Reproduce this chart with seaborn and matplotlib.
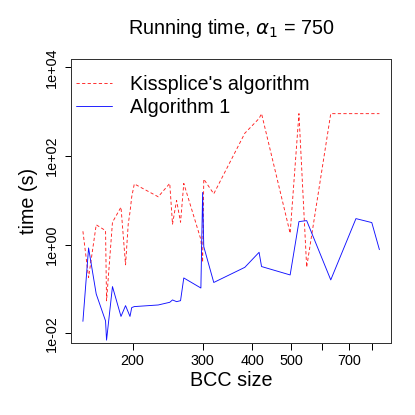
import numpy as np
import pandas as pd
import seaborn as sns
import matplotlib.pyplot as plt
from matplotlib.ticker import FixedLocator, NullLocator

# BCC size and running time (s) for both methods
bcc_size = [150, 155, 162, 171, 172, 178, 187, 192, 195, 197, 199, 202,
            232, 248, 252, 258, 264, 269, 297, 300, 302, 320, 383, 416,
            422, 498, 524, 548, 630, 729, 799, 835]
kissplice = [2.0, 0.18, 2.8, 2.07, 0.054, 3.2, 7.0, 0.35, 2.9, 5.4, 12, 23.4,
             12, 24, 2.9, 9.9, 3.2, 24, 1.3, 0.4, 30, 14, 325, 700,
             900, 1.8, 900, 0.31, 900, 900, 900, 900]
algo1 = [0.0186, 0.84, 0.077, 0.019, 0.007, 0.113, 0.024, 0.042, 0.03, 0.024, 0.038, 0.040,
         0.0435, 0.05, 0.0565, 0.0517, 0.0544, 0.177, 0.105, 15, 0.9, 0.14, 0.307, 0.67,
         0.32, 0.207, 3.3, 3.48, 0.16, 3.86, 3.14, 0.77]

data = pd.DataFrame({'bcc': bcc_size, 'kissplice': kissplice, 'algo1': algo1})

sns.set_style('white')
plt.rcParams['font.family'] = ['Liberation Sans', 'DejaVu Sans']
plt.rcParams['mathtext.fontset'] = 'dejavusans'
plt.rcParams['text.color'] = 'black'
plt.rcParams['axes.labelcolor'] = 'black'

fig = plt.figure(figsize=(415 / 72, 415 / 72), dpi=72)
ax = fig.add_axes([71 / 415, 71.7 / 415, 320 / 415, 284 / 415])

sns.lineplot(data=data, x='bcc', y='kissplice', ax=ax, color='#FF2020', lw=0.9,
             linestyle=(0, (3.6, 2.6)), label="Kissplice's algorithm",
             estimator=None)
sns.lineplot(data=data, x='bcc', y='algo1', ax=ax, color='#1010FF', lw=0.9,
             estimator=None, label='Algorithm 1')

ax.set_xscale('log')
ax.set_yscale('log')
ax.set_xlim(140, 893)
ax.set_ylim(10 ** -2.226, 10 ** 4.18)

ax.xaxis.set_major_locator(FixedLocator([200, 300, 400, 500, 600, 700, 800]))
ax.set_xticklabels(['200', '300', '400', '500', '', '700', ''])
ax.xaxis.set_minor_locator(NullLocator())
ax.yaxis.set_major_locator(FixedLocator([1e-2, 1, 1e2, 1e4]))
ax.set_yticklabels(['1e-02', '1e+00', '1e+02', '1e+04'], rotation=90, va='center')
ax.yaxis.set_minor_locator(NullLocator())

ax.tick_params(axis='both', direction='out', length=6.5, width=1, colors='black',
               labelsize=14.4, left=True, bottom=True)
ax.tick_params(axis='x', pad=4)
ax.tick_params(axis='y', pad=6)
for s in ax.spines.values():
    s.set_color('#333333')
    s.set_linewidth(1)

ax.set_xlabel('BCC size', fontsize=19.7, labelpad=3)
ax.set_ylabel('time (s)', fontsize=19.7, labelpad=6)
fig.text(231 / 415, 1 - 28 / 415, r'Running time, $\alpha_1$ = 750', fontsize=19.7,
         ha='center', va='center')

ax.legend(loc='upper left', bbox_to_anchor=(76 / 415, 1 - 75 / 415),
          bbox_transform=fig.transFigure, frameon=False, fontsize=19.7,
          handlelength=1.85, handletextpad=0.9, labelspacing=0.18,
          borderpad=0, borderaxespad=0)

fig.savefig('out.png', dpi=72)
